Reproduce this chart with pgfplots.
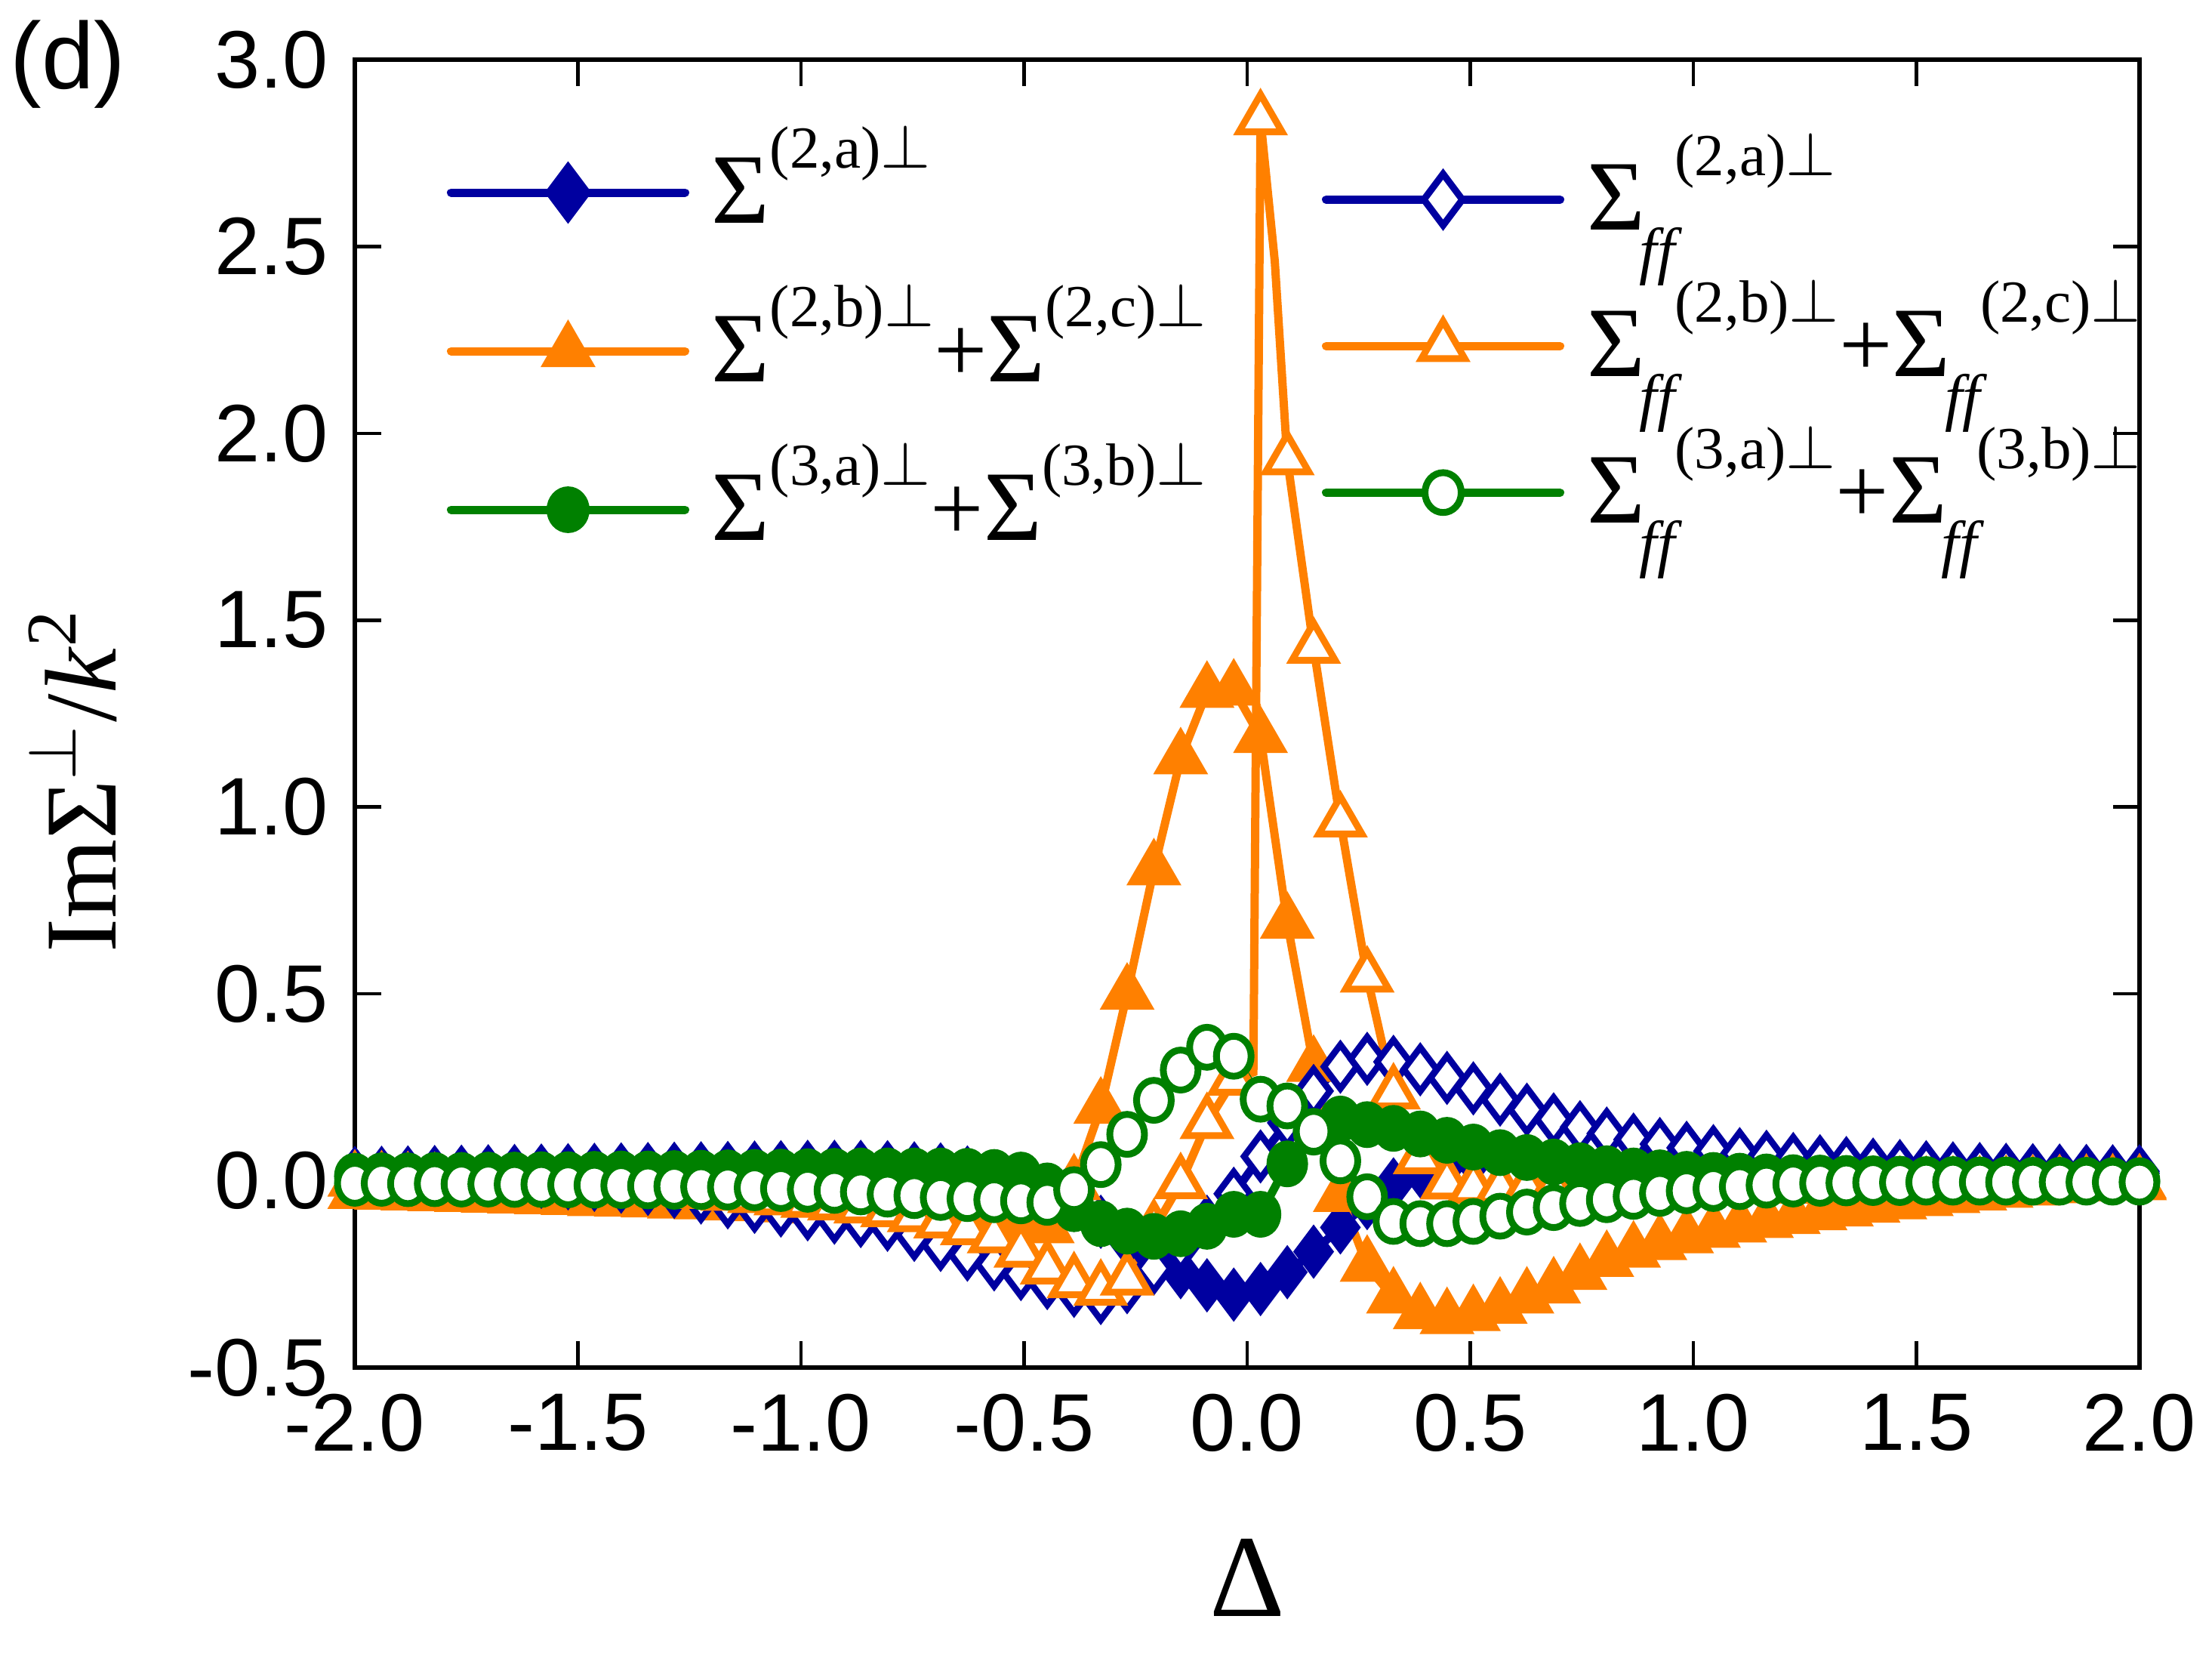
\documentclass[border=0pt]{standalone}
\usepackage{fontspec}
\setmainfont{Liberation Sans}
\newfontfamily\tnr{Liberation Serif}
\usepackage{amsmath}
\usepackage{pgfplots}
\pgfplotsset{compat=1.18}
\usepackage{pgfplotstable}

\definecolor{cnavy}{RGB}{0,0,160}
\definecolor{corange}{RGB}{255,128,0}
\definecolor{cgreen}{RGB}{0,128,0}

\newcommand{\ticksize}{\fontsize{10.8}{12}\selectfont}
\newcommand{\legfont}{\tnr\fontsize{12.5}{14}\selectfont}
\newcommand{\ylabfont}{\tnr\fontsize{13.5}{15}\selectfont}
\newcommand{\xlabfont}{\tnr\fontsize{15.5}{17}\selectfont}
\newcommand{\dfont}{\fontsize{12.5}{14}\selectfont}
\newcommand{\supfont}{\fontsize{7.9}{9}\selectfont}
\newcommand{\subfont}{\fontsize{8.4}{9}\selectfont\itshape}
% Sigma with superscript
\newcommand{\Sp}[1]{{\fontsize{13.2}{14}\selectfont Σ}\raisebox{7.3pt}{\supfont(#1)$\perp$}}
% Sigma with subscript ff followed by superscript
\newcommand{\SpF}[1]{{\fontsize{13.2}{14}\selectfont Σ}\hspace{-0.7pt}\raisebox{-5.6pt}{\subfont ff}\raisebox{7.2pt}{\supfont(#1)$\perp$}}

% x, A = Sigma(2,a), B = Sigma_ff(2,a), C = Sigma(2,b)+(2,c), D = Sigma_ff(2,b)+(2,c), E = Sigma(3,a)+(3,b), F = Sigma_ff(3,a)+(3,b)
\pgfplotstableread{
x A B C D E F
-2.000 0.020 0.020 -0.033 0.000 0.012 -0.007
-1.940 0.021 0.017 -0.035 -0.002 0.013 -0.007
-1.881 0.022 0.014 -0.037 -0.004 0.013 -0.008
-1.821 0.023 0.011 -0.039 -0.006 0.014 -0.008
-1.761 0.024 0.008 -0.041 -0.008 0.014 -0.009
-1.701 0.025 0.005 -0.043 -0.010 0.015 -0.009
-1.642 0.026 0.001 -0.045 -0.012 0.015 -0.010
-1.582 0.027 -0.003 -0.047 -0.014 0.016 -0.010
-1.522 0.028 -0.007 -0.049 -0.016 0.016 -0.011
-1.463 0.029 -0.011 -0.052 -0.019 0.017 -0.012
-1.403 0.030 -0.016 -0.054 -0.022 0.018 -0.013
-1.343 0.031 -0.022 -0.056 -0.025 0.018 -0.014
-1.284 0.032 -0.030 -0.059 -0.029 0.019 -0.015
-1.224 0.033 -0.045 -0.061 -0.033 0.020 -0.016
-1.164 0.034 -0.058 -0.064 -0.038 0.021 -0.017
-1.104 0.035 -0.070 -0.066 -0.044 0.022 -0.019
-1.045 0.036 -0.080 -0.069 -0.050 0.023 -0.021
-0.985 0.037 -0.090 -0.072 -0.057 0.024 -0.023
-0.925 0.037 -0.099 -0.075 -0.064 0.025 -0.026
-0.866 0.037 -0.108 -0.079 -0.072 0.026 -0.030
-0.806 0.036 -0.118 -0.083 -0.082 0.026 -0.036
-0.746 0.033 -0.145 -0.088 -0.095 0.026 -0.040
-0.687 0.030 -0.172 -0.093 -0.112 0.026 -0.045
-0.627 0.022 -0.198 -0.099 -0.130 0.025 -0.048
-0.567 0.008 -0.224 -0.106 -0.152 0.022 -0.051
-0.507 -0.008 -0.250 -0.115 -0.190 0.015 -0.054
-0.448 -0.030 -0.274 -0.125 -0.235 -0.014 -0.058
-0.388 -0.065 -0.295 -0.010 -0.272 -0.075 -0.024
-0.328 -0.110 -0.314 0.195 -0.292 -0.115 0.043
-0.269 -0.160 -0.285 0.500 -0.265 -0.135 0.124
-0.209 -0.205 -0.235 0.833 -0.130 -0.149 0.215
-0.149 -0.245 -0.175 1.130 -0.007 -0.142 0.296
-0.090 -0.280 -0.110 1.308 0.154 -0.122 0.357
-0.030 -0.305 -0.035 1.314 0.270 -0.090 0.333
0.030 -0.290 0.065 1.187 2.840 -0.090 0.218
0.090 -0.245 0.155 0.690 1.930 0.045 0.200
0.149 -0.190 0.240 0.307 1.426 0.130 0.132
0.209 -0.125 0.305 -0.041 0.961 0.165 0.053
0.269 -0.060 0.326 -0.228 0.546 0.150 -0.043
0.328 -0.010 0.318 -0.313 0.233 0.140 -0.109
0.388 0.025 0.298 -0.355 0.060 0.125 -0.115
0.448 0.045 0.275 -0.368 -0.008 0.108 -0.115
0.507 0.055 0.247 -0.360 -0.020 0.090 -0.109
0.567 0.058 0.217 -0.340 -0.022 0.075 -0.095
0.627 0.056 0.190 -0.313 -0.022 0.062 -0.084
0.687 0.052 0.164 -0.286 -0.022 0.050 -0.072
0.746 0.048 0.143 -0.250 -0.022 0.040 -0.061
0.806 0.045 0.126 -0.215 -0.021 0.032 -0.051
0.866 0.042 0.110 -0.190 -0.021 0.026 -0.042
0.925 0.040 0.098 -0.170 -0.021 0.021 -0.034
0.985 0.038 0.088 -0.152 -0.020 0.017 -0.027
1.045 0.036 0.079 -0.137 -0.020 0.014 -0.021
1.104 0.034 0.071 -0.123 -0.020 0.012 -0.016
1.164 0.032 0.064 -0.111 -0.019 0.010 -0.012
1.224 0.031 0.058 -0.100 -0.019 0.008 -0.009
1.284 0.030 0.052 -0.090 -0.018 0.007 -0.007
1.343 0.029 0.047 -0.080 -0.018 0.006 -0.006
1.403 0.028 0.043 -0.070 -0.017 0.005 -0.005
1.463 0.027 0.039 -0.061 -0.017 0.004 -0.005
1.522 0.026 0.036 -0.052 -0.016 0.003 -0.004
1.582 0.025 0.033 -0.044 -0.016 0.003 -0.004
1.642 0.024 0.031 -0.037 -0.015 0.002 -0.004
1.701 0.023 0.029 -0.030 -0.014 0.002 -0.004
1.761 0.022 0.028 -0.024 -0.013 0.001 -0.004
1.821 0.021 0.027 -0.018 -0.012 0.001 -0.004
1.881 0.020 0.026 -0.013 -0.011 0.001 -0.004
1.940 0.020 0.025 -0.009 -0.010 0.000 -0.004
2.000 0.020 0.025 -0.006 -0.010 0.000 -0.004
}\datatab

% extra line points of the open-triangle curve near its peak
\pgfplotstableread{
x y
-0.030 0.270
0.014 0.290
0.030 2.840
0.062 2.460
0.090 1.930
}\peaktab

\begin{document}
\begin{tikzpicture}
\path[use as bounding box] (-47pt,-37.8pt) rectangle (246pt,181.1pt);
\begin{axis}[
  name=main,
  scale only axis, width=236.4pt, height=173.2pt,
  xmin=-2, xmax=2, ymin=-0.5, ymax=3.0,
  xtick={-2,-1.5,-1,-0.5,0,0.5,1,1.5,2},
  xticklabels={-2.0,-1.5,-1.0,-0.5,0.0,0.5,1.0,1.5,2.0},
  ytick={-0.5,0,0.5,1,1.5,2,2.5,3},
  yticklabels={-0.5,0.0,0.5,1.0,1.5,2.0,2.5,3.0},
  tick align=inside, major tick length=3.5pt,
  every tick/.style={black, line width=0.45pt},
  axis line style={line width=0.6pt},
  tick label style={font=\ticksize},
  xlabel={Δ},
  xlabel style={font=\xlabfont, at={(axis description cs:0.5,-0.161)}, anchor=center},
  ylabel={ImΣ$^{\perp}$/\textit{k}$^{\text{2}}$},
  ylabel style={font=\ylabfont, at={(axis description cs:-0.158,0.449)}, anchor=center},
  legend image code/.code={\draw[mark repeat=2,mark phase=2,line cap=round] plot coordinates {(0pt,0pt) (15.5pt,0pt) (31pt,0pt)};},
  legend cell align=left,
  legend style={draw=none, fill=none, inner sep=0pt, outer sep=0pt,
    at={(axis description cs:0.0516,0.959)}, anchor=north west,
    row sep=0pt, column sep=3pt,
    nodes={inner sep=0pt, outer sep=0pt, text height=14.5pt, text depth=6.5pt, font=\legfont, anchor=west}},
]
% z-order: filled navy, filled orange, open navy, open orange, filled green, open green
\addplot[forget plot, cnavy, line width=1.1pt, mark=diamond*, mark size=2.9pt, mark options={solid, line width=0.85pt, fill=cnavy}] table[x=x,y=A]{\datatab};
\addplot[forget plot, corange, line width=1.1pt, mark=triangle*, mark size=3.3pt, mark options={solid, line width=0.9pt, fill=corange}] table[x=x,y=C]{\datatab};
\addplot[forget plot, cnavy, line width=1.1pt, mark=diamond*, mark size=2.9pt, mark options={solid, line width=0.85pt, fill=white}] table[x=x,y=B]{\datatab};
\addplot[forget plot, corange, line width=1.1pt, no marks, restrict x to domain=-2.1:-0.02] table[x=x,y=D]{\datatab};
\addplot[forget plot, corange, line width=1.1pt, no marks] table[x=x,y=y]{\peaktab};
\addplot[forget plot, corange, line width=1.1pt, no marks, restrict x to domain=0.08:2.1] table[x=x,y=D]{\datatab};
\addplot[forget plot, corange, line width=1.1pt, only marks, mark=triangle*, mark size=3.3pt, mark options={solid, line width=0.9pt, fill=white}] table[x=x,y=D]{\datatab};
\addplot[forget plot, cgreen, line width=1.1pt, mark=*, mark size=2.3pt, mark options={solid, line width=0.9pt, yscale=1.15, fill=cgreen}] table[x=x,y=E]{\datatab};
\addplot[forget plot, cgreen, line width=1.1pt, mark=*, mark size=2.3pt, mark options={solid, line width=0.9pt, yscale=1.15, fill=white}] table[x=x,y=F]{\datatab};

\addlegendimage{cnavy, line width=1.1pt, mark=diamond*, mark size=3.4pt, mark options={solid, line width=0.9pt, fill=cnavy}}
\addlegendentry{\Sp{2,a}}
\addlegendimage{corange, line width=1.1pt, mark=triangle*, mark size=3.3pt, mark options={solid, line width=0.9pt, fill=corange}}
\addlegendentry{\Sp{2,b}+\Sp{2,c}}
\addlegendimage{cgreen, line width=1.1pt, mark=*, mark size=2.4pt, mark options={solid, line width=0.9pt, yscale=1.1, fill=cgreen}}
\addlegendentry{\Sp{3,a}+\Sp{3,b}}
\end{axis}

\begin{axis}[
  scale only axis, width=236.4pt, height=173.2pt,
  xmin=-2, xmax=2, ymin=-0.5, ymax=3.0, hide axis,
  legend image code/.code={\draw[mark repeat=2,mark phase=2,line cap=round] plot coordinates {(0pt,0pt) (15.5pt,0pt) (31pt,0pt)};},
  legend cell align=left,
  legend style={draw=none, fill=none, inner sep=0pt, outer sep=0pt,
    at={(axis description cs:0.5419,0.949)}, anchor=north west,
    row sep=0pt, column sep=3pt,
    nodes={inner sep=0pt, outer sep=0pt, text height=13.7pt, text depth=5.7pt, font=\legfont, anchor=west}},
]
\addlegendimage{cnavy, line width=1.1pt, mark=diamond*, mark size=3.4pt, mark options={solid, line width=0.9pt, fill=white}}
\addlegendentry{\SpF{2,a}}
\addlegendimage{corange, line width=1.1pt, mark=triangle*, mark size=3.3pt, mark options={solid, line width=0.9pt, fill=white}}
\addlegendentry{\SpF{2,b}+\SpF{2,c}}
\addlegendimage{cgreen, line width=1.1pt, mark=*, mark size=2.4pt, mark options={solid, line width=0.9pt, yscale=1.1, fill=white}}
\addlegendentry{\SpF{3,a}+\SpF{3,b}}
\end{axis}

\node[font=\dfont, anchor=center] at (-38pt,172.6pt) {(d)};
\end{tikzpicture}
\end{document}
